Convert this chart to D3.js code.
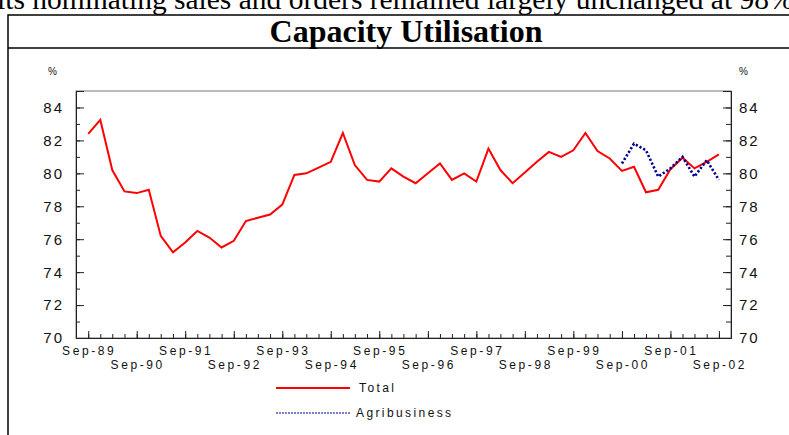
<!DOCTYPE html>
<html>
<head>
<meta charset="utf-8">
<script src="https://cdn.jsdelivr.net/npm/d3@7"></script>
<style>
  body { margin: 0; background: #fff; overflow: hidden; }
  svg { display: block; }
  .lbl { font-family: "Liberation Sans", Arial, sans-serif; fill: #111; }
</style>
</head>
<body>
<div id="chart"></div>
<script>
// quarterly observations, Sep-89 .. Sep-02
const quarters = d3.timeMonth.range(new Date(1989, 8, 1), new Date(2002, 9, 1), 3);

const total = [82.4, 83.25, 80.2, 78.9, 78.8, 79.0, 76.2, 75.2, 75.8, 76.5,
  76.1, 75.5, 75.9, 77.1, 77.3, 77.5, 78.1, 79.9, 80.0, 80.35,
  80.7, 82.45, 80.5, 79.6, 79.5, 80.3, 79.8, 79.4, 80.0, 80.6,
  79.6, 80.0, 79.5, 81.5, 80.2, 79.4, 80.05, 80.7, 81.3, 81.0,
  81.4, 82.45, 81.35, 80.9, 80.15, 80.4, 78.85, 79.0, 80.25, 80.95,
  80.3, 80.7, 81.15];

// agribusiness series starts at Sep-00 (index 44)
const agriStart = 44;
const agribusiness = [80.6, 81.8, 81.4, 79.8, 80.3, 81.0, 79.8, 80.8, 79.6];

const yTicks = [70, 72, 74, 76, 78, 80, 82, 84];
const yMinor = d3.range(70, 86, 1);
const xLabels = ['Sep-89', 'Sep-90', 'Sep-91', 'Sep-92', 'Sep-93', 'Sep-94', 'Sep-95',
  'Sep-96', 'Sep-97', 'Sep-98', 'Sep-99', 'Sep-00', 'Sep-01', 'Sep-02'];

const W = 789, H = 435;
const svg = d3.select('#chart').append('svg')
  .attr('width', W)
  .attr('height', H);

// bit of page text above the chart box (clipped by the window)
svg.append('text')
  .attr('x', -3)
  .attr('y', 9)
  .attr('font-family', '"Liberation Serif", "Times New Roman", serif')
  .attr('font-size', 29.5)
  .attr('fill', '#000')
  .text('its nominating sales and orders remained largely unchanged at 98%');

// outer frame
svg.append('path')
  .attr('d', `M8,${H} V15 H${W}`)
  .attr('fill', 'none')
  .attr('stroke', '#000')
  .attr('stroke-width', 1.5);
svg.append('line')
  .attr('x1', 8).attr('x2', W)
  .attr('y1', 48).attr('y2', 48)
  .attr('stroke', '#000')
  .attr('stroke-width', 1.5);

svg.append('text')
  .attr('x', 406)
  .attr('y', 42)
  .attr('text-anchor', 'middle')
  .attr('font-family', '"Liberation Serif", "Times New Roman", serif')
  .attr('font-weight', 'bold')
  .attr('font-size', 32)
  .text('Capacity Utilisation');

const margin = { top: 91, left: 76, right: 58, bottom: 97 };
const width = W - margin.left - margin.right;
const height = H - margin.top - margin.bottom;

const g = svg.append('g')
  .attr('transform', `translate(${margin.left},${margin.top})`);

const x = d3.scaleTime()
  .domain([new Date(1989, 5, 1), new Date(2002, 11, 1)])
  .range([0, width]);
const y = d3.scaleLinear().domain([70, 85]).range([height, 0]);

// plot frame
g.append('rect')
  .attr('width', width)
  .attr('height', height)
  .attr('fill', 'none')
  .attr('stroke', '#777');

// inward ticks
const tickStyle = sel => {
  sel.select('.domain').attr('stroke', '#222');
  sel.selectAll('.tick line').attr('stroke', '#222');
};
g.append('g')
  .call(d3.axisLeft(y).tickValues(yMinor).tickSize(-4).tickFormat(''))
  .call(tickStyle);
g.append('g')
  .call(d3.axisLeft(y).tickValues(yTicks).tickSize(-8).tickFormat(''))
  .call(tickStyle);
g.append('g')
  .attr('transform', `translate(${width},0)`)
  .call(d3.axisRight(y).tickValues(yMinor).tickSize(-5).tickFormat(''))
  .call(tickStyle);
g.append('g')
  .attr('transform', `translate(${width},0)`)
  .call(d3.axisRight(y).tickValues(yTicks).tickSize(-8).tickFormat(''))
  .call(tickStyle);

const septs = quarters.filter(d => d.getMonth() === 8);
g.append('g')
  .attr('transform', `translate(0,${height})`)
  .call(d3.axisBottom(x).tickValues(quarters).tickSize(-4).tickFormat(''))
  .call(tickStyle);
g.append('g')
  .attr('transform', `translate(0,${height})`)
  .call(d3.axisBottom(x).tickValues(septs).tickSize(-7).tickFormat(''))
  .call(tickStyle);

// y labels both sides
g.selectAll('.yl').data(yTicks).join('text')
  .attr('class', 'lbl')
  .attr('x', -12)
  .attr('y', d => y(d))
  .attr('dy', '0.36em')
  .attr('text-anchor', 'end')
  .attr('font-size', 15)
  .attr('letter-spacing', 2)
  .text(d => d);
g.selectAll('.yr').data(yTicks).join('text')
  .attr('class', 'lbl')
  .attr('x', width + 8)
  .attr('y', d => y(d))
  .attr('dy', '0.36em')
  .attr('font-size', 15)
  .attr('letter-spacing', 2)
  .text(d => d);

g.append('text').attr('class', 'lbl')
  .attr('x', -28).attr('y', -16)
  .attr('font-size', 10).text('%');
g.append('text').attr('class', 'lbl')
  .attr('x', width + 8).attr('y', -16)
  .attr('font-size', 10).text('%');

// x labels, staggered in two rows
g.selectAll('.xl').data(septs).join('text')
  .attr('class', 'lbl')
  .attr('x', d => x(d) + 1)
  .attr('y', (d, i) => height + (i % 2 ? 31 : 17))
  .attr('text-anchor', 'middle')
  .attr('font-size', 12)
  .attr('letter-spacing', 2.6)
  .text((d, i) => xLabels[i]);

// lines
const line = d3.line()
  .x(d => x(d[0]))
  .y(d => y(d[1]));

g.append('path')
  .datum(total.map((v, i) => [quarters[i], v]))
  .attr('fill', 'none')
  .attr('stroke', '#ff0000')
  .attr('stroke-width', 2)
  .attr('d', line);

g.append('path')
  .datum(agribusiness.map((v, i) => [quarters[agriStart + i], v]))
  .attr('fill', 'none')
  .attr('stroke', '#000090')
  .attr('stroke-width', 2.6)
  .attr('stroke-dasharray', '2.2,2')
  .attr('d', line);

// legend
const legend = svg.append('g');
legend.append('line')
  .attr('x1', 276).attr('x2', 350)
  .attr('y1', 388).attr('y2', 388)
  .attr('stroke', '#ff0000')
  .attr('stroke-width', 2);
legend.append('text').attr('class', 'lbl')
  .attr('x', 359).attr('y', 392)
  .attr('font-size', 12)
  .attr('letter-spacing', 2.4)
  .text('Total');
legend.append('line')
  .attr('x1', 276).attr('x2', 350)
  .attr('y1', 413).attr('y2', 413)
  .attr('stroke', '#000090')
  .attr('stroke-width', 1.2)
  .attr('stroke-dasharray', '2,1');
legend.append('text').attr('class', 'lbl')
  .attr('x', 356).attr('y', 417)
  .attr('font-size', 12)
  .attr('letter-spacing', 2.4)
  .text('Agribusiness');
</script>
</body>
</html>
